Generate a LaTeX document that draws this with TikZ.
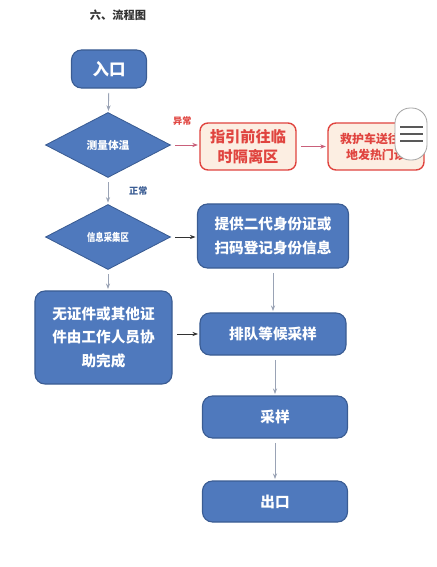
\documentclass[tikz,border=0pt]{standalone}
\usepackage{fontspec}
\setmainfont{Noto Sans CJK SC}
\usetikzlibrary{shapes.geometric,arrows.meta}
\definecolor{flowblue}{HTML}{4F79BD}
\definecolor{flowedge}{HTML}{3A5C93}
\definecolor{flowred}{HTML}{E0443F}
\definecolor{flowpeach}{HTML}{FCEEE2}
\definecolor{flowgrey}{HTML}{9AA3B5}
\definecolor{flowpink}{HTML}{C9607A}
\definecolor{flowtext}{HTML}{333333}

\begin{document}
\begin{tikzpicture}[
  x=0.025cm, y=-0.025cm,
  font=\bfseries,
  bluebox/.style={draw=flowedge, fill=flowblue, line width=0.8pt, rounded corners=2.5mm, text=white, align=center, inner sep=0pt},
  bluediamond/.style={diamond, aspect=1.9, draw=flowedge, fill=flowblue, line width=0.6pt, text=white, inner sep=0pt, minimum width=3.125cm, minimum height=1.625cm},
  redbox/.style={draw=flowred, fill=flowpeach, line width=1pt, rounded corners=2mm, text=flowred, align=center, inner sep=0pt, minimum width=2.4cm, minimum height=1.175cm},
  flowarrow/.style={draw=flowgrey, line width=0.6pt, -{Stealth[length=4pt,width=3pt]}, shorten <=3pt, shorten >=1pt},
  redarrow/.style={flowarrow, draw=flowpink}
]
\useasboundingbox (0,0) rectangle (436,567);

% Title
\node[text=flowtext, font=\bfseries\fontsize{8}{10}\selectfont] (title) at (118,15) {六、流程图};

% Left column: entry and the two checks
\node[bluebox, minimum width=1.875cm, minimum height=0.95cm, font=\bfseries\fontsize{11.7}{14}\selectfont] (entry) at (109,69) {入口};
\node[bluediamond, font=\bfseries\fontsize{7.6}{9}\selectfont] (temp) at (108,145) {测量体温};
\node[bluediamond, font=\bfseries\fontsize{7.6}{9}\selectfont] (info) at (108,237) {\scalebox{0.78}[1]{信息采集区}};
\node[bluebox, minimum width=3.425cm, minimum height=2.325cm, font=\bfseries\fontsize{10.4}{17}\selectfont] (noid) at (103.5,337.5) {无证件或其他证\\件由工作人员协\\助完成};

% Abnormal branch
\node[redbox, font=\bfseries\fontsize{10.8}{14}\selectfont] (isolate) at (248,146.5) {指引前往临\\时隔离区};
\node[redbox, font=\bfseries\fontsize{8.5}{11.3}\selectfont] (hospital) at (376,146.5) {救护车送往当\\地发热门诊};

% Right column: registration and sampling
\node[bluebox, minimum width=3.775cm, minimum height=1.6cm, font=\bfseries\fontsize{10.4}{17}\selectfont] (register) at (273,236) {提供二代身份证或\\扫码登记身份信息};
\node[bluebox, minimum width=3.65cm, minimum height=1.05cm, font=\bfseries\fontsize{10.4}{13}\selectfont] (queue) at (273,334) {排队等候采样};
\node[bluebox, minimum width=3.625cm, minimum height=1.05cm, font=\bfseries\fontsize{10.4}{13}\selectfont] (sample) at (275,417) {采样};
\node[bluebox, minimum width=3.625cm, minimum height=1.025cm, font=\bfseries\fontsize{10.4}{13}\selectfont] (exit) at (275,501.5) {出口};

% Connectors
\draw[flowarrow] (entry) -- (temp);
\draw[redarrow] (temp.east) -- (isolate.west |- temp.east)
  node[pos=0.4, yshift=6mm, text=flowred, font=\bfseries\fontsize{6.5}{8}\selectfont] (abnormal) {异常};
\draw[redarrow] (isolate) -- (hospital);
\draw[flowarrow] (temp) -- (info)
  node[midway, right=4mm, text=flowedge, font=\bfseries\fontsize{6.5}{8}\selectfont] (normal) {正常};
\draw[flowarrow, draw=black!80] (info) -- (register.west |- info);
\draw[flowarrow] (info.south) -- (info.south |- noid.north);
\draw[flowarrow, draw=black!80] (noid.east |- queue) -- (queue);
\draw[flowarrow] (queue.north |- register.south) -- (queue);
\draw[flowarrow] (sample.north |- queue.south) -- (sample);
\draw[flowarrow] (sample) -- (exit);

% Menu button overlay on the top right
\draw[black!35, fill=white, line width=0.6pt, rounded corners=0.38cm] (395,108) rectangle (427,160);
\foreach \ly in {127,134,141}
  \draw[black!65, line width=1pt] (400,\ly) -- (423,\ly);

\end{tikzpicture}
\end{document}
